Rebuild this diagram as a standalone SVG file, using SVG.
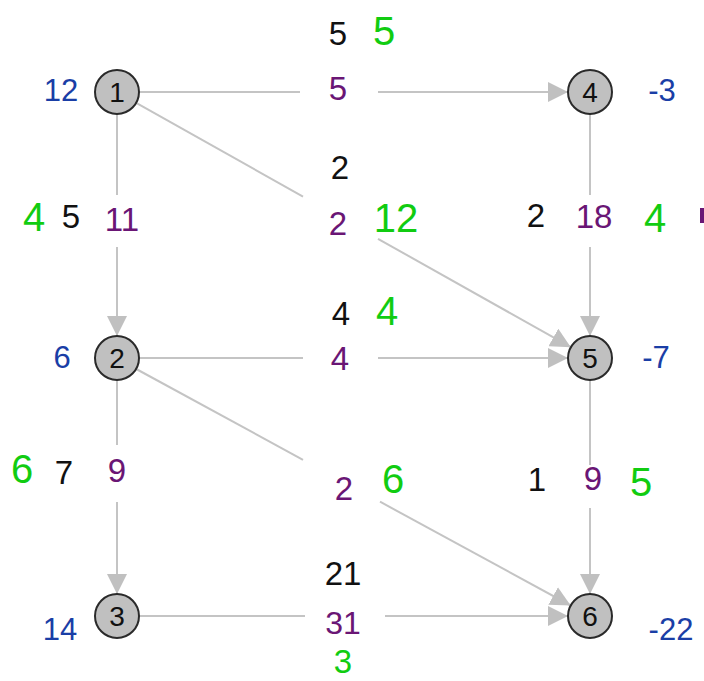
<svg xmlns="http://www.w3.org/2000/svg" width="704" height="681" viewBox="0 0 704 681">
<defs>
<marker id="arr" markerUnits="userSpaceOnUse" markerWidth="20" markerHeight="20" refX="20" refY="10" orient="auto" viewBox="0 0 20 20">
<path d="M0,0 L20,10 L0,20 z" fill="#c0c0c0"/>
</marker>
<style>
.e{stroke:#c4c4c4;stroke-width:2;fill:none}
.n circle{fill:#c0c0c0;stroke:#2a2a2a;stroke-width:2}
.n text{font-family:"Liberation Sans",Arial,sans-serif;font-size:28px;fill:#111;text-anchor:middle}
text{font-family:"Liberation Sans",Arial,sans-serif;text-anchor:middle}
.b{fill:#1a3ea6;font-size:31px}
.k{fill:#111;font-size:33px}
.p{fill:#6a1675;font-size:33px}
.g{fill:#11cc11;font-size:40px}
</style>
</defs>
<rect width="704" height="681" fill="#fff"/>
<g id="connectors">
<line class="e" x1="139" y1="92" x2="300" y2="92"/>
<line class="e" x1="378" y1="92" x2="568" y2="92" marker-end="url(#arr)"/>
<line class="e" x1="136.2" y1="102.8" x2="303" y2="196.6"/>
<line class="e" x1="378" y1="238.8" x2="570.8" y2="347.2" marker-end="url(#arr)"/>
<line class="e" x1="117" y1="114" x2="117" y2="195"/>
<line class="e" x1="117" y1="247" x2="117" y2="336" marker-end="url(#arr)"/>
<line class="e" x1="590" y1="114" x2="590" y2="195"/>
<line class="e" x1="590" y1="247" x2="590" y2="336" marker-end="url(#arr)"/>
<line class="e" x1="139" y1="358" x2="303" y2="358"/>
<line class="e" x1="378" y1="358" x2="568" y2="358" marker-end="url(#arr)"/>
<line class="e" x1="135.3" y1="368.5" x2="303" y2="459.8"/>
<line class="e" x1="380" y1="501.7" x2="570.7" y2="605.5" marker-end="url(#arr)"/>
<line class="e" x1="117" y1="380" x2="117" y2="445"/>
<line class="e" x1="117" y1="502" x2="117" y2="594" marker-end="url(#arr)"/>
<line class="e" x1="590" y1="380" x2="590" y2="465"/>
<line class="e" x1="590" y1="508" x2="590" y2="594" marker-end="url(#arr)"/>
<line class="e" x1="139" y1="616" x2="305" y2="616"/>
<line class="e" x1="385" y1="616" x2="568" y2="616" marker-end="url(#arr)"/>
</g>
<g id="node1" class="n"><circle cx="117" cy="92" r="22"/><text x="117" y="102">1</text></g>
<g id="node2" class="n"><circle cx="117" cy="358" r="22"/><text x="117" y="368">2</text></g>
<g id="node3" class="n"><circle cx="117" cy="616" r="22"/><text x="117" y="626">3</text></g>
<g id="node4" class="n"><circle cx="590" cy="92" r="22"/><text x="590" y="102">4</text></g>
<g id="node5" class="n"><circle cx="590" cy="358" r="22"/><text x="590" y="368">5</text></g>
<g id="node6" class="n"><circle cx="590" cy="616" r="22"/><text x="590" y="626">6</text></g>
<g id="labels">
<text class="b" x="61" y="101">12</text>
<text class="b" x="662" y="101">-3</text>
<text class="b" x="62" y="368">6</text>
<text class="b" x="656" y="368">-7</text>
<text class="b" x="60" y="640">14</text>
<text class="b" x="671" y="640">-22</text>

<text class="k" x="338" y="45">5</text>
<text class="g" x="384" y="45">5</text>
<text class="p" x="338" y="100">5</text>

<text class="k" x="340" y="179">2</text>
<text class="p" x="338" y="235">2</text>
<text class="g" x="396" y="232">12</text>

<text class="g" x="34" y="231">4</text>
<text class="k" x="71" y="228">5</text>
<text class="p" x="122" y="231">11</text>

<text class="k" x="536" y="227">2</text>
<text class="p" x="594" y="228">18</text>
<text class="g" x="655" y="232">4</text>

<text class="k" x="341" y="325">4</text>
<text class="g" x="387" y="325">4</text>
<text class="p" x="340" y="370">4</text>

<text class="p" x="344" y="500">2</text>
<text class="g" x="393" y="493">6</text>

<text class="g" x="22" y="483">6</text>
<text class="k" x="64" y="484">7</text>
<text class="p" x="117" y="482">9</text>

<text class="k" x="537" y="491">1</text>
<text class="p" x="593" y="490">9</text>
<text class="g" x="641" y="496">5</text>

<text class="k" x="343" y="585">21</text>
<text class="p" x="343" y="634" style="font-size:32px">31</text>
<text class="g" x="343" y="673" style="font-size:33px">3</text>
</g>
<rect x="700" y="208" width="4" height="15" fill="#6a1675"/>
</svg>
